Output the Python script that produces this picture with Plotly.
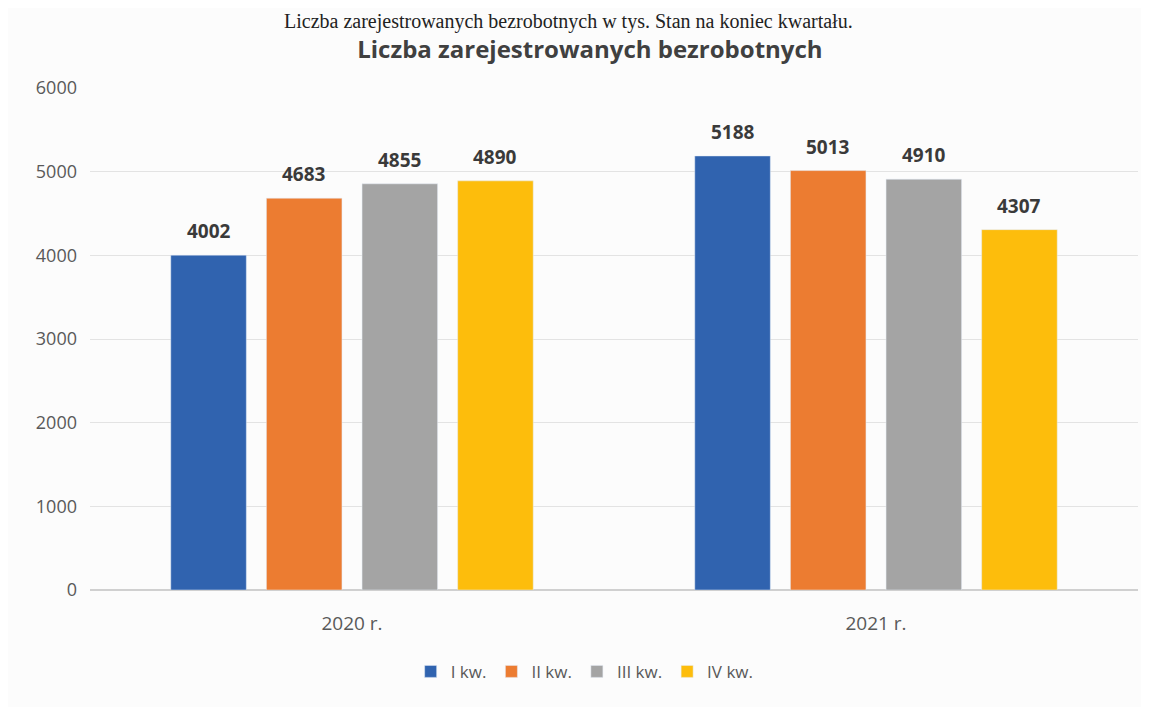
import plotly.graph_objects as go

categories = ["2020 r.", "2021 r."]
series_names = ["I kw.", "II kw.", "III kw.", "IV kw."]
values = {
    "I kw.": [4002, 5188],
    "II kw.": [4683, 5013],
    "III kw.": [4855, 4910],
    "IV kw.": [4890, 4307],
}
colors = ["#3063AF", "#EC7C31", "#A4A4A4", "#FDBD0C"]
y_ticks = [0, 1000, 2000, 3000, 4000, 5000, 6000]

BARGAP = 0.27
BARGROUPGAP = 0.21

fig = go.Figure()
for name, col in zip(series_names, colors):
    fig.add_trace(go.Bar(x=categories, y=values[name], name=name, marker_color=col))

# value labels above the bars, positioned via the bar layout
slot = (1 - BARGAP) / len(series_names)
for k, name in enumerate(series_names):
    off = (k - (len(series_names) - 1) / 2) * slot
    for i, v in enumerate(values[name]):
        fig.add_annotation(x=i + off, y=v, xref="x", yref="y", text=f"<b>{v}</b>",
                           showarrow=False, yanchor="middle", yshift=24,
                           font=dict(family="Open Sans", size=19, color="#3A3A3A"))

fig.update_layout(
    width=1141, height=699,
    paper_bgcolor="#FCFCFC", plot_bgcolor="#FCFCFC",
    margin=dict(l=82, r=11, t=80, b=117),
    barmode="group", bargap=BARGAP, bargroupgap=BARGROUPGAP,
    title=dict(text="Liczba zarejestrowanych bezrobotnych", x=0.51, xanchor="center",
               y=0.94, yanchor="middle",
               font=dict(family="Open Sans", size=24, color="#404040", weight="bold")),
    font=dict(family="Open Sans", color="#595959"),
    legend=dict(orientation="h", x=0.472, xanchor="center", y=-0.163, yanchor="middle",
                font=dict(size=17, color="#595959"), itemwidth=30, traceorder="normal"),
    yaxis=dict(range=[0, 6000], tickvals=y_ticks, showgrid=True, gridcolor="#E3E3E3",
               zeroline=True, zerolinecolor="#D0D0D0", tickfont=dict(size=18, color="#595959"),
               ticklabelstandoff=12),
    xaxis=dict(tickfont=dict(size=19, color="#595959"), ticklabelstandoff=20,
               showline=False),
)

fig.add_annotation(
    text="Liczba zarejestrowanych bezrobotnych w tys. Stan na koniec kwartału.",
    xref="paper", yref="paper", x=0.73, y=1.0, yshift=80, xanchor="right", yanchor="top",
    showarrow=False, font=dict(family="Liberation Serif", size=20, color="#222222"),
)

fig.write_html("out.html")
